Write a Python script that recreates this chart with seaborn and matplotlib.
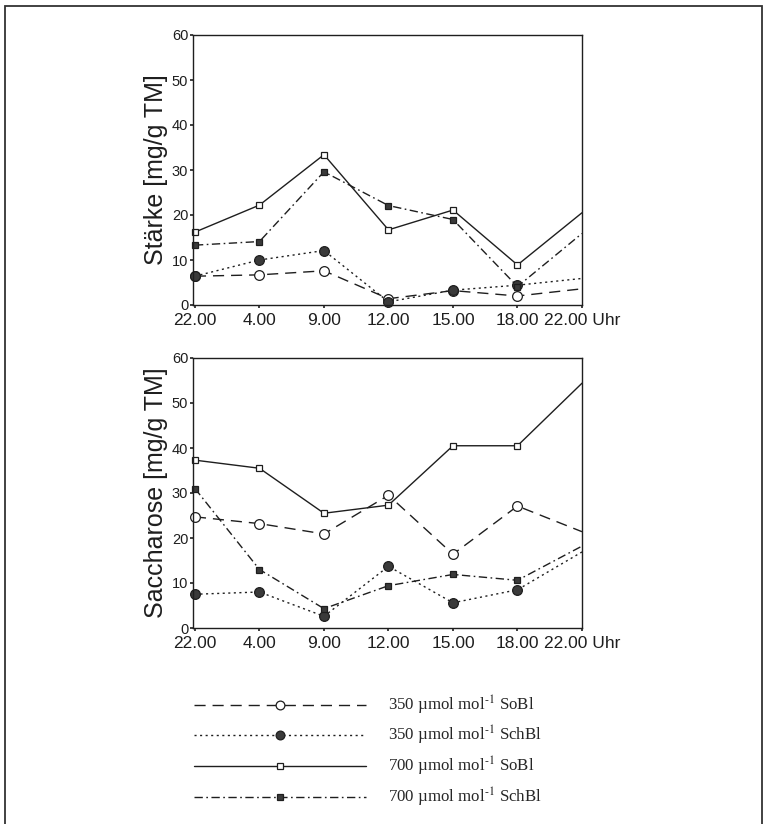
import numpy as np
import pandas as pd
import matplotlib
matplotlib.use("Agg")
import matplotlib.pyplot as plt
from matplotlib.lines import Line2D
from matplotlib.patches import Rectangle
import seaborn as sns

sns.set_theme(style="white")
plt.rcParams['font.family'] = ['Liberation Sans', 'DejaVu Sans']
plt.rcParams['mathtext.fontset'] = 'stix'

# ---- data ----
times = ["22.00", "4.00", "9.00", "12.00", "15.00", "18.00", "22.00 Uhr"]
series = [r"350 µmol mol$^{\text{-}1}$ SoBl", r"350 µmol mol$^{\text{-}1}$ SchBl",
          r"700 µmol mol$^{\text{-}1}$ SoBl", r"700 µmol mol$^{\text{-}1}$ SchBl"]

staerke_350_sobl = [6.4, 6.7, 7.6, 1.4, 3.2, 2.0, 3.6]
staerke_350_schbl = [6.4, 10.0, 12.1, 0.7, 3.3, 4.4, 5.9]
staerke_700_sobl = [16.2, 22.2, 33.4, 16.7, 21.1, 8.9, 20.5]
staerke_700_schbl = [13.3, 14.1, 29.6, 22.1, 19.0, 4.1, 15.9]

sacch_350_sobl = [24.7, 23.2, 20.9, 29.5, 16.4, 27.1, 21.4]
sacch_350_schbl = [7.5, 8.0, 2.6, 13.7, 5.6, 8.5, 16.9]
sacch_700_sobl = [37.3, 35.5, 25.5, 27.3, 40.5, 40.5, 54.4]
sacch_700_schbl = [31.0, 13.0, 4.3, 9.4, 11.9, 10.6, 18.2]

panels = [
    ("Stärke [mg/g TM]", [staerke_350_sobl, staerke_350_schbl, staerke_700_sobl, staerke_700_schbl]),
    ("Saccharose [mg/g TM]", [sacch_350_sobl, sacch_350_schbl, sacch_700_sobl, sacch_700_schbl]),
]

ink = "#1e1e1e"
fill = "#3a3a3a"
styles = [
    dict(linestyle=(0, (8, 5)), marker="o", markersize=7, markerfacecolor="white"),
    dict(linestyle=(0, (1.5, 2.5)), marker="o", markersize=7, markerfacecolor=fill),
    dict(linestyle="-", marker="s", markersize=5, markerfacecolor="white"),
    dict(linestyle=(0, (6, 2.5, 1.2, 2.5)), marker="s", markersize=5, markerfacecolor=fill),
]

W, H = 766, 824
fig = plt.figure(figsize=(W / 100, H / 100), dpi=100)

# outer frame (left, top, right edges)
fig.add_artist(Rectangle((5 / W, -0.05), (762 - 5) / W, 1.05 - 6 / H,
                         transform=fig.transFigure, fill=False,
                         edgecolor="#333333", linewidth=1.3))

ax_pos = [(193, 35, 582, 305), (193, 358, 582, 628)]
x = np.arange(len(times))

for (label, vals), (l, t, r, b) in zip(panels, ax_pos):
    ax = fig.add_axes([l / W, 1 - b / H, (r - l) / W, (b - t) / H])
    for name, v, st in zip(series, vals, styles):
        df = pd.DataFrame({"t": x, "v": v})
        sns.lineplot(data=df, x="t", y="v", ax=ax, color=ink, linewidth=1.0,
                     markeredgecolor=ink, markeredgewidth=0.9,
                     markevery=list(range(len(times) - 1)), clip_on=False,
                     legend=False, **st)
    ax.set_xlim(-0.03, 6)
    ax.set_ylim(0, 60)
    ax.set_yticks([0, 10, 20, 30, 40, 50, 60])
    ax.set_xticks(x)
    ax.set_xticklabels(times, fontsize=12.5)
    ax.tick_params(axis="y", labelsize=10.5, length=2.5, width=1.2, pad=1, colors=ink)
    ax.tick_params(axis="x", length=2.5, width=1.2, pad=3, colors=ink)
    ax.tick_params(left=True, bottom=True)
    for s in ax.spines.values():
        s.set_color(ink)
        s.set_linewidth(1.0)
    ax.set_xlabel("")
    ax.set_ylabel(label, fontsize=18, color=ink, labelpad=3)

# legend
handles = [Line2D([], [], color=ink, linewidth=1.0, markeredgecolor=ink,
                  markeredgewidth=0.9, **st) for st in styles]
for h, st in zip(handles, styles):
    h.set_markersize(st["markersize"] * 0.9)
fig.legend(handles, series, loc="upper left",
           bbox_to_anchor=(186 / W, 1 - 685 / H), frameon=False,
           handlelength=10.1, handletextpad=1.3, labelspacing=0.45,
           borderpad=0, numpoints=1,
           prop={"family": "Liberation Serif", "size": 12.2})

fig.savefig("out.png", dpi=100, facecolor="white")
